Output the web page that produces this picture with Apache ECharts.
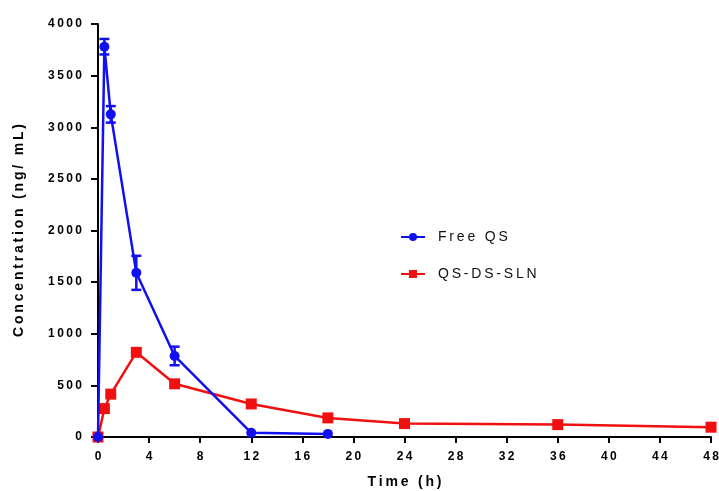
<!DOCTYPE html>
<html>
<head>
<meta charset="utf-8">
<script src="https://cdn.jsdelivr.net/npm/echarts@6/dist/echarts.min.js"></script>
<style>
  html, body { margin: 0; padding: 0; background: #fff; }
  #chart { width: 719px; height: 491px; }
</style>
</head>
<body>
<div id="chart"></div>
<script>
// sampling times (h)
const freeTimes = [0, 0.5, 1, 3, 6, 12, 18];
const freeConc = [0, 3780, 3125, 1590, 785, 40, 30];
const freeErr = [0, 75, 80, 165, 90, 0, 0];

const slnTimes = [0, 0.5, 1, 3, 6, 12, 18, 24, 36, 48];
const slnConc = [0, 275, 415, 820, 515, 320, 185, 130, 120, 95];

const xTicks = [0, 4, 8, 12, 16, 20, 24, 28, 32, 36, 40, 44, 48];
const yTicks = [0, 500, 1000, 1500, 2000, 2500, 3000, 3500, 4000];

let chartDom = document.getElementById('chart');
let myChart = echarts.init(chartDom);

const BLUE = '#1010f0';
const RED = '#f01010';

// the original uses wide letter spacing, fake it with thin spaces
function spaced(s) {
  return String(s).split('').join('\u2009');
}

const freeData = freeTimes.map((t, i) => [t, freeConc[i]]);
const slnData = slnTimes.map((t, i) => [t, slnConc[i]]);
const errData = freeTimes
  .map((t, i) => [t, freeConc[i] - freeErr[i], freeConc[i] + freeErr[i]])
  .filter((d, i) => freeErr[i] > 0);

function renderErrorBar(params, api) {
  const x = api.value(0);
  const lo = api.coord([x, api.value(1)]);
  const hi = api.coord([x, api.value(2)]);
  const half = 5;
  const style = { stroke: BLUE, lineWidth: 2.5, fill: null };
  return {
    type: 'group',
    children: [
      { type: 'line', shape: { x1: lo[0], y1: lo[1], x2: hi[0], y2: hi[1] }, style: style },
      { type: 'line', shape: { x1: lo[0] - half, y1: lo[1], x2: lo[0] + half, y2: lo[1] }, style: style },
      { type: 'line', shape: { x1: hi[0] - half, y1: hi[1], x2: hi[0] + half, y2: hi[1] }, style: style }
    ]
  };
}

const axisLabelStyle = {
  color: '#000',
  fontFamily: 'Liberation Sans',
  fontWeight: 'bold',
  fontSize: 12
};
const nameStyle = {
  color: '#000',
  fontFamily: 'Liberation Sans',
  fontWeight: 'bold',
  fontSize: 14
};

const option = {
  animation: false,
  grid: { left: 98, right: 8, top: 24, bottom: 54, outerBoundsMode: 'none' },
  legend: {
    orient: 'vertical',
    left: 395,
    top: 225,
    itemGap: 23,
    itemWidth: 24,
    itemHeight: 10,
    data: ['Free QS', 'QS-DS-SLN'],
    formatter: function (name) { return spaced(name); },
    textStyle: { color: '#111', fontFamily: 'Liberation Sans', fontSize: 14, padding: [0, 0, 0, 8] }
  },
  xAxis: {
    type: 'value',
    min: 0,
    max: 48,
    interval: 4,
    name: spaced('Time (h)'),
    nameLocation: 'middle',
    nameGap: 38,
    nameTextStyle: nameStyle,
    axisLine: { lineStyle: { color: '#000', width: 2 } },
    axisTick: { show: true, length: 6, lineStyle: { color: '#000', width: 2 } },
    axisLabel: Object.assign({
      margin: 14,
      customValues: xTicks,
      formatter: function (v) { return spaced(v); }
    }, axisLabelStyle),
    splitLine: { show: false }
  },
  yAxis: {
    type: 'value',
    min: 0,
    max: 4000,
    interval: 500,
    name: spaced('Concentration (ng/ mL)'),
    nameLocation: 'middle',
    nameGap: 72,
    nameTextStyle: nameStyle,
    axisLine: { show: true, lineStyle: { color: '#000', width: 2 } },
    axisTick: { show: true, length: 7, lineStyle: { color: '#000', width: 2 } },
    axisLabel: Object.assign({
      margin: 16,
      customValues: yTicks,
      formatter: function (v) { return spaced(v); }
    }, axisLabelStyle),
    splitLine: { show: false }
  },
  series: [
    {
      name: 'QS-DS-SLN',
      type: 'line',
      data: slnData,
      symbol: 'rect',
      symbolSize: 11,
      clip: false,
      itemStyle: { color: RED },
      lineStyle: { color: RED, width: 2.5 },
      z: 2
    },
    {
      name: 'Free QS',
      type: 'line',
      data: freeData,
      symbol: 'circle',
      symbolSize: 10,
      clip: false,
      itemStyle: { color: BLUE },
      lineStyle: { color: BLUE, width: 2.5 },
      z: 3
    },
    {
      name: 'Free QS',
      type: 'custom',
      renderItem: renderErrorBar,
      data: errData,
      encode: { x: 0, y: [1, 2] },
      z: 4
    }
  ]
};

myChart.setOption(option);
</script>
</body>
</html>
